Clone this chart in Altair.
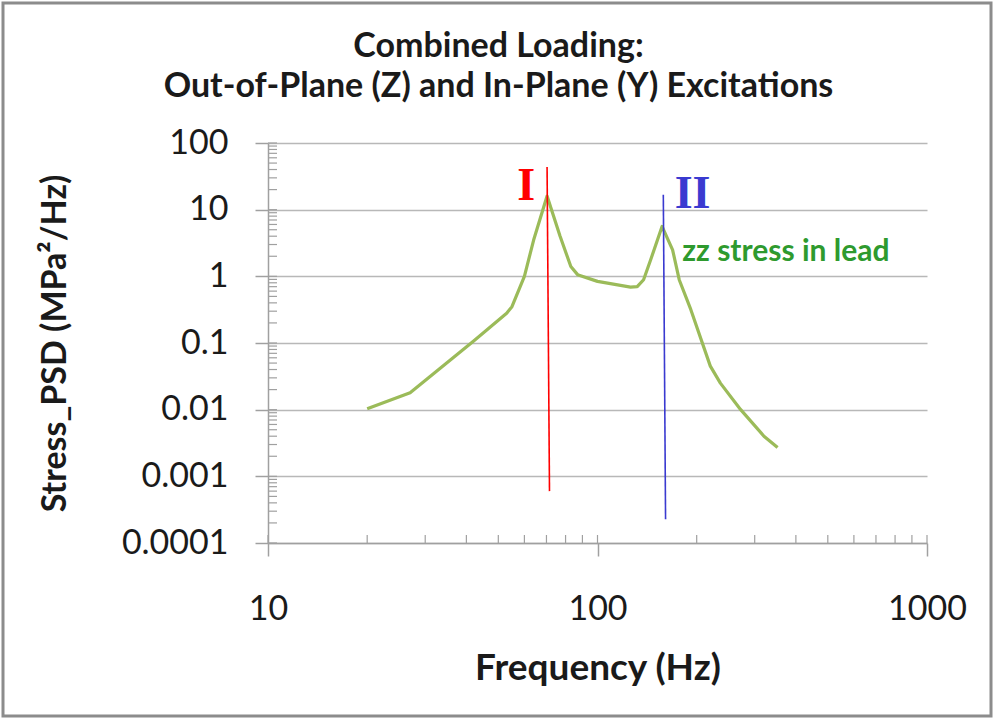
import altair as alt
import pandas as pd

# ---- data ----
freq = [20, 27, 42, 53, 55, 60, 64, 70.3, 77, 83, 87, 100, 126, 132, 138, 145,
        157, 169, 177, 192, 220, 236, 272, 320, 352]
psd = [0.0103, 0.018, 0.106, 0.28, 0.35, 1.0, 3.5, 16, 4, 1.4, 1.06, 0.84, 0.69,
       0.70, 0.89, 1.77, 5.6, 2.5, 0.89, 0.316, 0.045, 0.025, 0.010, 0.004, 0.0027]

mode_names = ["I", "II"]
mode_f_top = [70.3, 158.4]
mode_f_bottom = [71.5, 160.9]
mode_psd_top = [43.7, 16.7]
mode_psd_bottom = [0.0006, 0.000227]
mode_colors = ["#ff0000", "#3a3ad0"]
mode_label_f = [60.8, 194.4]
mode_label_psd = [14.0, 10.6]

curve_label = "zz stress in lead"
curve_label_f = 180.9
curve_label_psd = 1.71

x_major = [10, 100, 1000]
x_minor = [20, 30, 40, 50, 60, 70, 80, 90, 200, 300, 400, 500, 600, 700, 800, 900]
y_major = [0.0001, 0.001, 0.01, 0.1, 1, 10, 100]
y_minor = [m * 10.0 ** e for e in range(-4, 2) for m in range(2, 10)]

W, H = 659, 400
FONT = "Lato"
AXIS_GRAY = "#a0a0a0"

xscale = alt.Scale(type="log", domain=[10, 1000], nice=False)
yscale = alt.Scale(type="log", domain=[0.0001, 100], nice=False)

curve_df = pd.DataFrame({"freq": freq, "psd": psd})
modes_df = pd.DataFrame({
    "name": mode_names, "f1": mode_f_top, "f2": mode_f_bottom,
    "p1": mode_psd_top, "p2": mode_psd_bottom, "color": mode_colors,
    "lf": mode_label_f, "lp": mode_label_psd,
})
xt_df = pd.DataFrame({"v": x_major + x_minor})
yt_df = pd.DataFrame({"v": y_major + y_minor})

curve = alt.Chart(curve_df).mark_line(color="#9bbb59", strokeWidth=3.2, strokeJoin="round").encode(
    x=alt.X("freq:Q", scale=xscale,
            axis=alt.Axis(values=x_major, format="~g", title="Frequency (Hz)", grid=False,
                          tickSize=13, tickColor=AXIS_GRAY, tickWidth=1.5,
                          domainColor=AXIS_GRAY, domainWidth=1.5,
                          labelFont=FONT, labelFontSize=34, labelColor="#1a1a1a",
                          labelPadding=36, labelFlush=False,
                          titleFont=FONT, titleFontSize=37, titleFontWeight="bold",
                          titleColor="#1a1a1a", titleX=W / 2, titleY=125,
                          titleBaseline="middle", titleAlign="center")),
    y=alt.Y("psd:Q", scale=yscale,
            axis=alt.Axis(values=y_major, format="~g", title="Stress_PSD (MPa²/Hz)",
                          grid=True, gridColor="#b8b8b8", gridWidth=1.5,
                          tickSize=13, tickColor=AXIS_GRAY, tickWidth=1.5,
                          domainColor=AXIS_GRAY, domainWidth=1.5,
                          labelFont=FONT, labelFontSize=34, labelColor="#1a1a1a",
                          labelPadding=27, labelFlush=False,
                          titleFont=FONT, titleFontSize=34, titleFontWeight="bold",
                          titleColor="#1a1a1a", titleX=-213, titleY=H / 2,
                          titleAngle=270, titleBaseline="middle", titleAlign="center")),
)

# outer frame (decoration)
frame = alt.Chart(pd.DataFrame({"a": [0]})).mark_rect(
    fill=None, stroke="#8c8c8c", strokeWidth=3
).encode(
    x=alt.value(-265), x2=alt.value(W + 64), y=alt.value(-140), y2=alt.value(H + 173)
)

xticks_in = alt.Chart(xt_df).mark_rule(color=AXIS_GRAY, strokeWidth=1.2).encode(
    x=alt.X("v:Q", scale=xscale), y=alt.value(H - 8), y2=alt.value(H)
)
yticks_in = alt.Chart(yt_df).mark_rule(color=AXIS_GRAY, strokeWidth=1.2).encode(
    y=alt.Y("v:Q", scale=yscale), x=alt.value(0), x2=alt.value(9)
)

mode_lines = alt.Chart(modes_df).mark_rule(strokeWidth=1.6).encode(
    x=alt.X("f1:Q", scale=xscale), x2="f2:Q",
    y=alt.Y("p1:Q", scale=yscale), y2="p2:Q",
    color=alt.Color("color:N", scale=None),
)
mode_labels = alt.Chart(modes_df).mark_text(
    font="Liberation Serif", fontWeight="bold", fontSize=46, align="center", baseline="alphabetic"
).encode(
    x=alt.X("lf:Q", scale=xscale),
    y=alt.Y("lp:Q", scale=yscale),
    text="name:N",
    color=alt.Color("color:N", scale=None),
)
curve_text = alt.Chart(pd.DataFrame({"f": [curve_label_f], "p": [curve_label_psd], "t": [curve_label]})).mark_text(
    font=FONT, fontWeight="bold", fontSize=30, color="#2e9a2e", align="left", baseline="alphabetic"
).encode(
    x=alt.X("f:Q", scale=xscale),
    y=alt.Y("p:Q", scale=yscale),
    text="t:N",
)

chart = alt.layer(
    curve, xticks_in, yticks_in, mode_lines, mode_labels, curve_text, frame
).properties(
    width=W, height=H,
    autosize=alt.AutoSizeParams(type="none"),
    padding={"left": 268, "top": 143, "right": 67, "bottom": 176},
    title=alt.TitleParams(
        text=["Combined Loading:", "Out-of-Plane (Z) and In-Plane (Y) Excitations"],
        font=FONT, fontSize=34, fontWeight="bold", color="#1a1a1a",
        lineHeight=40, anchor="middle", dx=-99, offset=0, dy=129, baseline="alphabetic",
    ),
).configure_view(stroke=None)

chart.save("out.html", embed_options={"renderer": "svg", "actions": False})
